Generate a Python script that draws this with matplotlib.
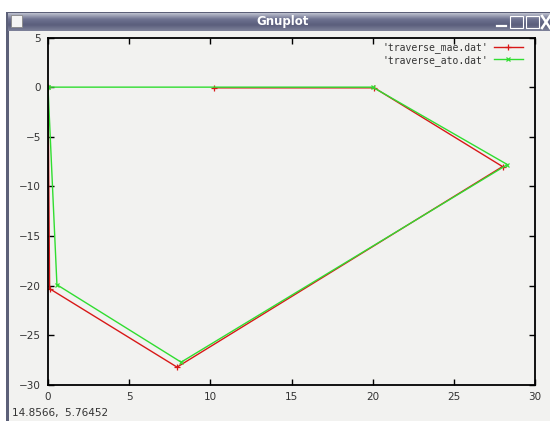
import matplotlib
matplotlib.use("Agg")
import numpy as np
import matplotlib.pyplot as plt
from matplotlib.patches import Rectangle

# traverse points (x, y) for the two data files
mae_x = [0.0, 0.1, 7.95, 28.0, 20.1, 10.2]
mae_y = [0.0, -20.3, -28.2, -8.0, -0.07, -0.07]
ato_x = [0.0, 0.55, 8.2, 28.3, 20.0, 0.0]
ato_y = [0.0, -19.9, -27.7, -7.8, 0.0, 0.0]

xticks = [0, 5, 10, 15, 20, 25, 30]
yticks = [5, 0, -5, -10, -15, -20, -25, -30]

W, H = 550, 421
BG = "#f2f2f0"
fig = plt.figure(figsize=(W / 100, H / 100), dpi=100)
fig.patch.set_facecolor("white")

# window chrome drawn in pixel coordinates
chrome = fig.add_axes([0, 0, 1, 1])
chrome.set_xlim(0, W)
chrome.set_ylim(H, 0)
chrome.axis("off")
chrome.add_patch(Rectangle((6, 12), W, H, facecolor="#5c6078", edgecolor="none"))
chrome.add_patch(Rectangle((9, 31), W, H, facecolor=BG, edgecolor="none"))
grad = np.linspace(0, 1, 20)[:, None]
chrome.imshow(np.hstack([grad] * 2), extent=(8, W, 31, 13), aspect="auto",
              cmap=matplotlib.colors.LinearSegmentedColormap.from_list(
                  "bar", ["#b9bccb", "#6e7290", "#5a5e7c", "#7d8098"]), zorder=1)
chrome.add_patch(Rectangle((11, 15), 11, 12, facecolor="#f4f4f4", edgecolor="#888888",
                           lw=0.6, zorder=2))
chrome.text(W / 2 + 8, 22, "Gnuplot", color="white", fontsize=8.5, fontweight="bold",
            ha="center", va="center", family="DejaVu Sans", zorder=2)
for bx in (510, 526):
    chrome.add_patch(Rectangle((bx, 16), 13, 12, facecolor="none", edgecolor="white",
                               lw=0.8, zorder=2))
chrome.plot([497, 506], [26, 26], color="white", lw=1.6, zorder=2)
chrome.plot([542, 550], [16, 28], color="white", lw=1.8, zorder=2)
chrome.plot([542, 550], [28, 16], color="white", lw=1.8, zorder=2)
chrome.text(12, 413, "14.8566,  5.76452", fontsize=7.5, color="#333333",
            ha="left", va="center", family="DejaVu Sans")

ax = fig.add_axes([48 / W, 1 - 385 / H, (535 - 48) / W, (385 - 37.5) / H])
ax.set_facecolor(BG)
ax.plot(mae_x, mae_y, color="#d81818", lw=1.0, marker="+", ms=4, mew=0.9,
        label="'traverse_mae.dat'")
ax.plot(ato_x, ato_y, color="#30dd30", lw=1.0, marker="x", ms=3, mew=0.9,
        label="'traverse_ato.dat'")
ax.set_xlim(0, 30)
ax.set_ylim(-30, 5)
ax.set_xticks(xticks)
ax.set_yticks(yticks)
ax.tick_params(direction="in", length=4, width=1.0, top=True, right=True,
               labelsize=7.5, labelcolor="#333333", pad=5)
for s in ax.spines.values():
    s.set_linewidth(1.3)
    s.set_color("black")
leg = ax.legend(loc="upper right", frameon=False, markerfirst=False,
                prop={"family": "DejaVu Sans Mono", "size": 7},
                handlelength=3.0, borderaxespad=0.3, labelspacing=0.15,
                handletextpad=0.6, borderpad=0.2, bbox_to_anchor=(0.985, 1.0))
for t in leg.get_texts():
    t.set_color("#333333")

fig.savefig("out.png", dpi=100, facecolor=fig.get_facecolor())
